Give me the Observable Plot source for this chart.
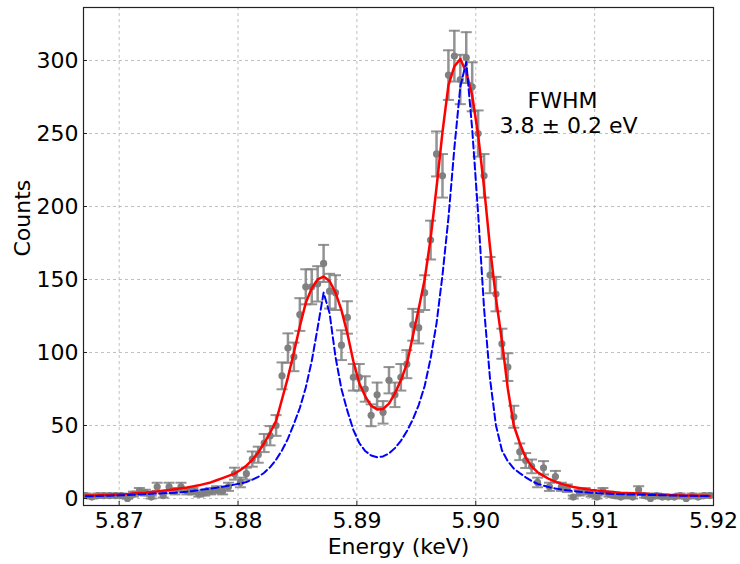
<!DOCTYPE html>
<html>
<head>
<meta charset="utf-8">
<script src="https://cdn.jsdelivr.net/npm/d3@7"></script>
<script src="https://cdn.jsdelivr.net/npm/@observablehq/plot@0.6"></script>
<style>
  html, body { margin: 0; padding: 0; background: #fff; }
  #chart { width: 740px; height: 564px; }
</style>
</head>
<body>
<div id="chart"></div>
<script>
// ---- data ----
const energy = [
  5.8672, 5.8677, 5.8682, 5.8687, 5.8692, 5.8697, 5.8702, 5.8707, 5.8712, 5.8717,
  5.8722, 5.8727, 5.8732, 5.8737, 5.8742, 5.8747, 5.8752, 5.8757, 5.8762, 5.8767,
  5.8772, 5.8777, 5.8782, 5.8787, 5.8792, 5.8797, 5.8802, 5.8807, 5.8812, 5.8817,
  5.8822, 5.8827, 5.8832, 5.8837, 5.8842, 5.8847, 5.8852, 5.8857, 5.8862, 5.8867,
  5.8872, 5.8877, 5.8882, 5.8887, 5.8892, 5.8897, 5.8902, 5.8907, 5.8912, 5.8917,
  5.8922, 5.8927, 5.8932, 5.8937, 5.8942, 5.8947, 5.8952, 5.8957, 5.8962, 5.8967,
  5.8972, 5.8977, 5.8982, 5.8987, 5.8992, 5.8997, 5.9002, 5.9007, 5.9012, 5.9017,
  5.9022, 5.9027, 5.9032, 5.9037, 5.9042, 5.9047, 5.9052, 5.9057, 5.9062, 5.9067,
  5.9072, 5.9077, 5.9082, 5.9087, 5.9092, 5.9097, 5.9102, 5.9107, 5.9112, 5.9117,
  5.9122, 5.9127, 5.9132, 5.9137, 5.9142, 5.9147, 5.9152, 5.9157, 5.9162, 5.9167,
  5.9172, 5.9177, 5.9182, 5.9187, 5.9192, 5.9197
];
const counts = [
  2, 1, 2, 2, 2, 2, 2, 0, 3, 5,
  4, 1, 8, 2, 8, 5, 8, 5, 5, 3,
  4, 5, 6, 5, 8, 17, 11, 17, 27, 30,
  38, 43, 50, 84, 103, 97, 126, 145, 145, 147,
  161, 142, 141, 105, 124, 83, 83, 75, 57, 71,
  59, 81, 71, 83, 92, 119, 117, 141, 177, 236,
  221, 290, 303, 287, 302, 282, 250, 221, 153, 140,
  106, 90, 56, 32, 26, 22, 11, 21, 8, 15,
  8, 7, 1, 4, 5, 3, 1, 5, 3, 2,
  1, 2, 1, 6, 2, 0, 2, 1, 1, 1,
  2, 0, 2, 1, 2, 2
];
const errors = [
  1.4, 1, 1.4, 1.4, 1.4, 1.4, 1.4, 0, 1.7, 2.2,
  2, 1, 2.8, 1.4, 2.8, 2.2, 2.8, 2.2, 2.2, 1.7,
  2, 2.2, 2.4, 2.2, 2.8, 4.1, 3.3, 4.1, 5.2, 5.5,
  6.2, 6.6, 7.1, 9.2, 10.1, 9.8, 11.2, 12.0, 12.0, 12.1,
  12.7, 11.9, 11.9, 10.2, 11.1, 9.1, 9.1, 8.7, 7.5, 8.4,
  7.7, 9.0, 8.4, 9.1, 9.6, 10.9, 10.8, 11.9, 13.3, 15.4,
  14.9, 17.0, 17.4, 16.9, 17.4, 16.8, 15.8, 14.9, 12.4, 11.8,
  10.3, 9.5, 7.5, 5.7, 5.1, 4.7, 3.3, 4.6, 2.8, 3.9,
  2.8, 2.6, 1, 2, 2.2, 1.7, 1, 2.2, 1.7, 1.4,
  1, 1.4, 1, 2.4, 1.4, 0, 1.4, 1, 1, 1,
  1.4, 0, 1.4, 1, 1.4, 1.4
];
const fitCurve = [
  2.0, 2.1, 2.2, 2.4, 2.5, 2.7, 2.9, 3.1, 3.4, 3.7,
  4.0, 4.4, 4.8, 5.3, 5.8, 6.4, 7.0, 7.6, 8.3, 9.0,
  10.0, 11.0, 12.5, 14.0, 15.5, 17.0, 19.5, 22.5, 26.5, 31.5,
  38, 45, 53, 68, 83, 100, 118, 134, 144, 150,
  152, 149, 141, 129, 113, 94, 79, 70, 63.5, 61,
  61.3, 65, 72, 81, 92, 111, 130, 150, 178, 213,
  251, 283, 296, 301, 292, 276, 249, 213, 172, 137,
  108, 75, 50, 38, 28, 22, 18, 15.5, 13.2, 11.5,
  10, 9, 7.9, 7.2, 6.5, 5.9, 5.4, 5.0, 4.6, 4.3,
  4.0, 3.8, 3.6, 3.4, 3.2, 3.0, 2.8, 2.7, 2.5, 2.4,
  2.2, 2.1, 2.0, 1.9, 1.8, 1.7
];
const intrinsic = [
  1.5, 1.6, 1.7, 1.8, 1.9, 2.0, 2.2, 2.4, 2.6, 2.8,
  3.0, 3.2, 3.4, 3.6, 3.8, 4.0, 4.3, 4.7, 5.2, 5.8,
  6.3, 6.8, 7.4, 8.1, 8.8, 9.5, 10.3, 11.3, 12.8, 14.8,
  17.6, 21.5, 26.5, 33, 41, 51, 62, 76, 94, 117,
  141, 127, 97, 75, 60, 47, 38, 32.5, 29.5, 28.3,
  28.8, 30.8, 34.5, 39.5, 46, 54, 64, 77, 96, 120,
  153, 192, 240, 282, 299, 253, 195, 130, 82, 50,
  33, 25.5, 20.5, 17.4, 14.5, 12, 10, 8.8, 7.7, 6.9,
  6.2, 5.6, 5.1, 4.7, 4.3, 4.0, 3.7, 3.5, 3.3, 3.1,
  2.9, 2.8, 2.7, 2.6, 2.5, 2.4, 2.3, 2.2, 2.1, 2.0,
  1.9, 1.85, 1.8, 1.75, 1.7, 1.65
];
const xTicks = [5.87, 5.88, 5.89, 5.90, 5.91, 5.92];
const yTicks = [0, 50, 100, 150, 200, 250, 300];
const xLabel = "Energy (keV)";
const yLabel = "Counts";
const annotation = [
  {text: "FWHM", E: 5.9073, c: 272.6},
  {text: "3.8 ± 0.2 eV", E: 5.9078, c: 255.5}
];

// ---- build table ----
const rows = energy.map((E, i) => ({E, c: counts[i], e: errors[i], fit: fitCurve[i], line: intrinsic[i]}));

const capSymbol = {
  draw(context, size) {
    const r = Math.sqrt(size / Math.PI);
    context.moveTo(-r, 0);
    context.lineTo(r, 0);
  }
};

const chart = Plot.plot({
  width: 740,
  height: 564,
  marginLeft: 83,
  marginRight: 27,
  marginTop: 7,
  marginBottom: 59,
  style: {fontFamily: "DejaVu Sans", fontSize: "22px", background: "#fff", color: "#000"},
  x: {domain: [5.867, 5.92]},
  y: {domain: [-4.8, 336.3]},
  marks: [
    Plot.gridX(xTicks, {stroke: "#b0b0b0", strokeOpacity: 1, strokeWidth: 0.8, strokeDasharray: "3,3"}),
    Plot.gridY(yTicks, {stroke: "#b0b0b0", strokeOpacity: 1, strokeWidth: 0.8, strokeDasharray: "3,3"}),
    Plot.ruleX(rows, {x: "E", y1: d => d.c - d.e, y2: d => d.c + d.e, stroke: "gray", strokeOpacity: 0.85, strokeWidth: 2.5, clip: true}),
    Plot.dot(rows, {x: "E", y: d => d.c + d.e, symbol: capSymbol, r: 5.5, fill: "none", stroke: "gray", strokeOpacity: 0.85, strokeWidth: 2, clip: true}),
    Plot.dot(rows, {x: "E", y: d => d.c - d.e, symbol: capSymbol, r: 5.5, fill: "none", stroke: "gray", strokeOpacity: 0.85, strokeWidth: 2, clip: true}),
    Plot.dot(rows, {x: "E", y: "c", r: 3.6, fill: "gray", stroke: "none", clip: true}),
    Plot.line(rows, {x: "E", y: "fit", stroke: "red", strokeWidth: 2.5, clip: true}),
    Plot.line(rows, {x: "E", y: "line", stroke: "blue", strokeWidth: 2, strokeDasharray: "7,3.5", clip: true}),
    Plot.frame({stroke: "#222", strokeWidth: 1.2}),
    Plot.axisX(xTicks, {tickSize: 4, dy: -4, text: null, label: null, stroke: "#222"}),
    Plot.axisY(yTicks, {tickSize: 4, dx: 4, text: null, label: null, stroke: "#222"}),
    Plot.axisX(xTicks, {tickSize: 0, tickPadding: 7, label: null, tickFormat: d3.format(".2f"), fontSize: 22, fill: "#000"}),
    Plot.axisY(yTicks, {tickSize: 0, tickPadding: 5, label: null, tickFormat: d3.format("d"), fontSize: 22, fill: "#000"}),
    Plot.text([xLabel], {text: d => d, frameAnchor: "bottom", dy: 41, lineAnchor: "middle", fontSize: 22, fill: "#000"}),
    Plot.text([yLabel], {text: d => d, frameAnchor: "left", dx: -61, rotate: -90, lineAnchor: "middle", fontSize: 22, fill: "#000"}),
    Plot.text(annotation, {x: "E", y: "c", text: "text", textAnchor: "middle", lineAnchor: "middle", fontSize: 22, fill: "#000"})
  ]
});
document.getElementById("chart").appendChild(chart);
</script>
</body>
</html>
